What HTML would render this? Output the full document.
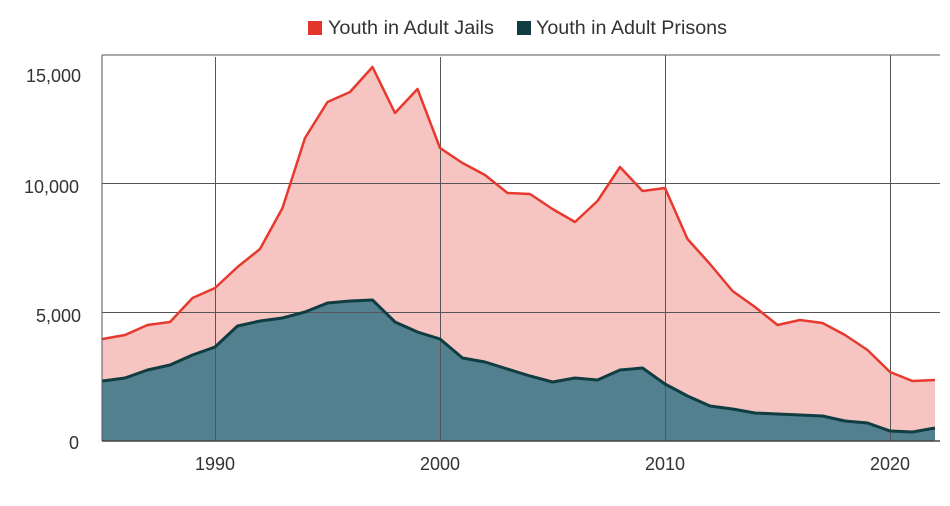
<!DOCTYPE html>
<html><head><meta charset="utf-8"><style>
html,body{margin:0;padding:0;background:#fff;}
svg{display:block;font-family:"Liberation Sans",sans-serif;}
</style></head><body>
<svg width="950" height="506" viewBox="0 0 950 506" xmlns="http://www.w3.org/2000/svg">
<rect x="308" y="21" width="14" height="14" fill="#e2362c"/>
<text x="328" y="34" font-size="19" fill="#333" textLength="166" lengthAdjust="spacingAndGlyphs">Youth in Adult Jails</text>
<rect x="517" y="21" width="14" height="14" fill="#0f3d42"/>
<text x="536" y="34" font-size="19" fill="#333" textLength="191" lengthAdjust="spacingAndGlyphs">Youth in Adult Prisons</text>

<polygon fill="#f6c4c1" points="102.5,441 102.5,339 125,335 147.5,325 170,322 192.5,298 215,288 237.5,267 260,249 282.5,208 305,138 327.5,102 350,92 372.5,67 395,113 417.5,89 440,148 462.5,163 485,175 507.5,193 530,194 552.5,209 575,222 597.5,201 620,167 642.5,191 665,188 687.5,239 710,264 732.5,291 755,307 777.5,325 800,320 822.5,323 845,335 867.5,350 890,372 912.5,381 935,380 935,441"/>
<polygon fill="#52808f" points="102.5,441 102.5,381 125,378 147.5,370 170,365 192.5,355 215,347 237.5,326 260,321 282.5,318 305,312 327.5,303 350,301 372.5,300 395,322 417.5,332 440,339 462.5,358 485,362 507.5,369 530,376 552.5,382 575,378 597.5,380 620,370 642.5,368 665,384 687.5,396 710,406 732.5,409 755,413 777.5,414 800,415 822.5,416 845,421 867.5,423 890,431 912.5,432 935,428 935,441"/>

<g stroke="#555" stroke-width="1" fill="none">
<line x1="102" y1="55" x2="940" y2="55"/>
<line x1="102" y1="183.5" x2="940" y2="183.5"/>
<line x1="102" y1="312.5" x2="940" y2="312.5"/>
<line x1="215.5" y1="57" x2="215.5" y2="441"/>
<line x1="440.5" y1="57" x2="440.5" y2="441"/>
<line x1="665.5" y1="55" x2="665.5" y2="441"/>
<line x1="890.5" y1="55" x2="890.5" y2="441"/>
<line x1="102" y1="55" x2="102" y2="441"/>
</g>
<line x1="102" y1="441" x2="940" y2="441" stroke="#444" stroke-width="1.5"/>

<polyline fill="none" stroke="#e8392f" stroke-width="2.5" stroke-linejoin="round" points="102.5,339 125,335 147.5,325 170,322 192.5,298 215,288 237.5,267 260,249 282.5,208 305,138 327.5,102 350,92 372.5,67 395,113 417.5,89 440,148 462.5,163 485,175 507.5,193 530,194 552.5,209 575,222 597.5,201 620,167 642.5,191 665,188 687.5,239 710,264 732.5,291 755,307 777.5,325 800,320 822.5,323 845,335 867.5,350 890,372 912.5,381 935,380"/>
<polyline fill="none" stroke="#0f3d42" stroke-width="3" stroke-linejoin="round" points="102.5,381 125,378 147.5,370 170,365 192.5,355 215,347 237.5,326 260,321 282.5,318 305,312 327.5,303 350,301 372.5,300 395,322 417.5,332 440,339 462.5,358 485,362 507.5,369 530,376 552.5,382 575,378 597.5,380 620,370 642.5,368 665,384 687.5,396 710,406 732.5,409 755,413 777.5,414 800,415 822.5,416 845,421 867.5,423 890,431 912.5,432 935,428"/>

<g font-size="18" fill="#333" text-anchor="end">
<text x="81" y="82">15,000</text>
<text x="79" y="193">10,000</text>
<text x="81" y="322">5,000</text>
<text x="79" y="449">0</text>
</g>
<g font-size="18" fill="#333" text-anchor="middle">
<text x="215" y="470">1990</text>
<text x="440" y="470">2000</text>
<text x="665" y="470">2010</text>
<text x="890" y="470">2020</text>
</g>
</svg>
</body></html>
